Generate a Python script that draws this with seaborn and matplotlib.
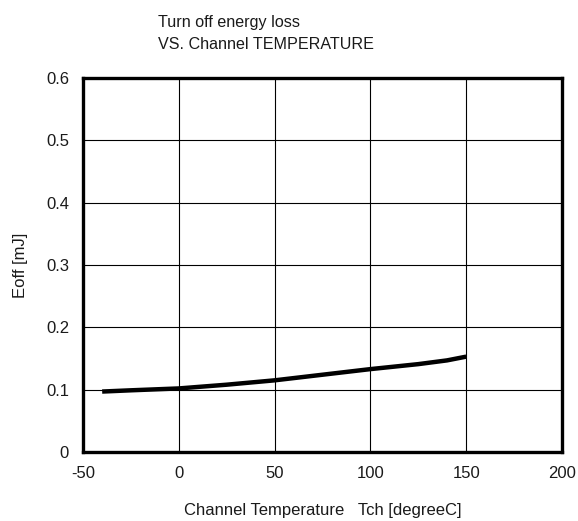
import numpy as np
import pandas as pd
import matplotlib
matplotlib.use("Agg")
import matplotlib.pyplot as plt
import seaborn as sns

# ── data ─────────────────────────────────────────────────────────────────────
tch = [-40, -25, 0, 25, 50, 75, 100, 125, 140, 150]
eoff = [0.097, 0.099, 0.102, 0.108, 0.115, 0.124, 0.133, 0.141, 0.147, 0.153]

x_ticks = [-50, 0, 50, 100, 150, 200]
y_ticks = [0, 0.1, 0.2, 0.3, 0.4, 0.5, 0.6]
y_labels = ["0", "0.1", "0.2", "0.3", "0.4", "0.5", "0.6"]

sns.set_theme(style="white")
plt.rcParams["font.family"] = ["Liberation Sans", "DejaVu Sans"]
plt.rcParams["axes.unicode_minus"] = False

df = pd.DataFrame({"Tch": tch, "Eoff": eoff})

fig = plt.figure(figsize=(5.78, 5.21), dpi=100)
ax = fig.add_axes([0.1436, 0.1324, 0.8287, 0.7179])

sns.lineplot(data=df, x="Tch", y="Eoff", color="black", lw=3.2, ax=ax,
             solid_capstyle="butt")

ax.set_xlim(-50, 200)
ax.set_ylim(0, 0.6)
ax.set_xticks(x_ticks)
ax.set_yticks(y_ticks)
ax.set_yticklabels(y_labels)
ax.grid(True, color="black", lw=0.8)
ax.set_axisbelow(True)
for sp in ax.spines.values():
    sp.set_linewidth(2.4)
    sp.set_color("black")
ax.tick_params(axis="both", length=0, labelsize=12, colors="#1a1a1a")
ax.tick_params(axis="y", pad=10)
ax.tick_params(axis="x", pad=10)

ax.set_xlabel("Channel Temperature   Tch [degreeC]", fontsize=12,
              color="#1a1a1a", labelpad=16)
ax.set_ylabel("Eoff [mJ]", fontsize=12, color="#1a1a1a", labelpad=13)

fig.text(0.2735, 1 - 15 / 521, "Turn off energy loss\nVS. Channel TEMPERATURE",
         ha="left", va="top", fontsize=11.6, color="#1a1a1a", linespacing=1.6)

fig.savefig("out.png", dpi=100)
